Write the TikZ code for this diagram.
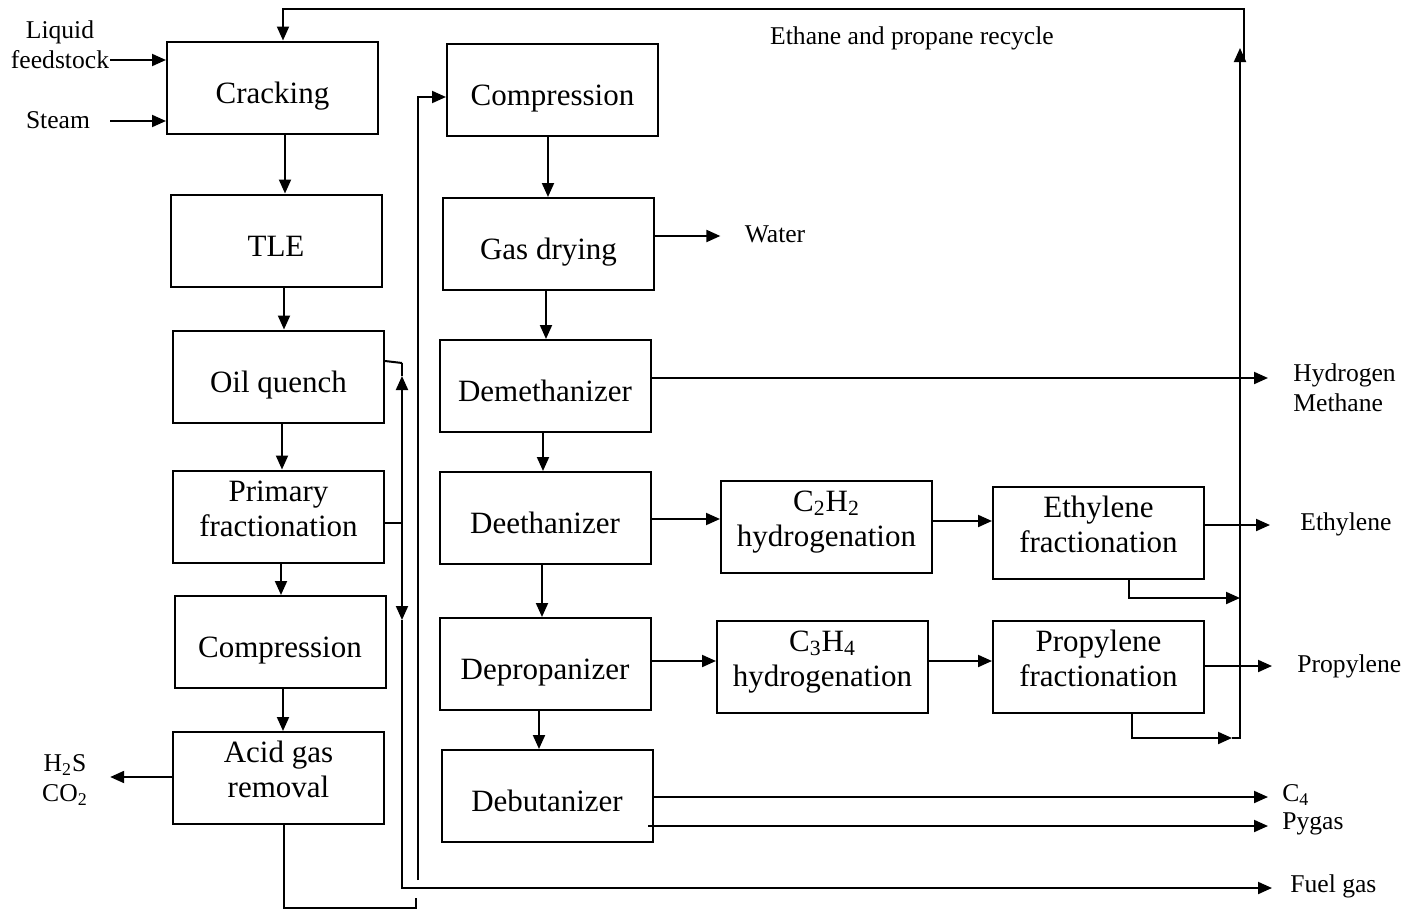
\documentclass[tikz,border=0pt]{standalone}
\usepackage{fontspec}
\setmainfont{Liberation Serif}
\usetikzlibrary{arrows.meta}
\begin{document}
\begin{tikzpicture}[x=0.5pt,y=-0.5pt,
 box/.style={draw, line width=1pt, minimum width=105.5pt, minimum height=46pt, align=center, inner sep=2pt, font=\fontsize{15.5}{17.5}\selectfont, text height=15.5pt, text depth=0pt},
 boxtwo/.style={box, text height=19.5pt, text depth=0pt},
 lbl/.style={font=\fontsize{12.8}{15}\selectfont, align=center, inner sep=0pt},
 lbll/.style={lbl, align=left, anchor=west},
 ln/.style={line width=1pt},
 arr/.style={ln, -{Triangle[length=7pt,width=6pt]}}]
\useasboundingbox (0,0) rectangle (1420,910);
% boxes
\node[box] (crack)  at (272.5,87.5) {Cracking};
\node[box] (tle)    at (276,240.5) {TLE};
\node[box] (oq)     at (278.5,376.5) {Oil quench};
\node[boxtwo] (pf)  at (278.5,516.5) {Primary\\fractionation};
\node[box] (comp1)  at (280,642) {Compression};
\node[boxtwo] (acid) at (278.5,778) {Acid gas\\removal};
\node[box] (comp2)  at (552.5,89.5) {Compression};
\node[box] (gd)     at (548.5,244) {Gas drying};
\node[box] (demeth) at (545,386) {Demethanizer};
\node[box] (deeth)  at (545,518) {Deethanizer};
\node[box] (deprop) at (545,664) {Depropanizer};
\node[box] (debut)  at (547,796) {Debutanizer};
\node[boxtwo] (c2h2)  at (826.5,527) {C\textsubscript{2}H\textsubscript{2}\\hydrogenation};
\node[boxtwo] (ethf)  at (1098.5,533) {Ethylene\\fractionation};
\node[boxtwo] (c3h4)  at (822.5,667) {C\textsubscript{3}H\textsubscript{4}\\hydrogenation};
\node[boxtwo] (propf) at (1098.5,667) {Propylene\\fractionation};
% labels
\node[lbl] (feed)  at (60,45) {Liquid\\feedstock};
\node[lbl] (steam) at (58,120) {Steam};
\node[lbl] (water) at (775,234) {Water};
\node[lbl] (h2s)   at (65,780) {H\textsubscript{2}S\\CO\textsubscript{2}};
\node[lbl] (recyc) at (912,38) {Ethane and propane recycle};
\node[lbll] (hm)   at (1293,388) {Hydrogen\\Methane};
\node[lbll] (eth)  at (1300,524) {Ethylene};
\node[lbll] (prop) at (1297,666) {Propylene};
\node[lbll] (c4)   at (1282,795) {C\textsubscript{4}};
\node[lbll] (pyg)  at (1282,824) {Pygas};
\node[lbll] (fuel) at (1290,886) {Fuel gas};
% coordinates
\coordinate (feedpt) at (110,60);
\coordinate (steampt) at (110,121);
\coordinate (rcbot) at (1240,735);
\coordinate (rctip) at (1240,48);
\coordinate (rctop) at (1244,61);
% inputs
\draw[arr] (feedpt) -- (crack.west |- feedpt);
\draw[arr] (steampt) -- (crack.west |- steampt);
% recycle
\draw[arr] (rctop) -- (1244,9) -- (283,9) -- (283,0 |- crack.north);
\draw[arr] (rcbot) -- (rctip);
\draw[arr] (1129,0 |- ethf.south) -- (1129,598) -- (1240,598);
\draw[arr] (1132,0 |- propf.south) -- (1132,738) -- (1232,738);
\draw[ln] (1232,738) -- (1240,738) -- (rcbot);
% left column
\draw[arr] (285,0 |- crack.south) -- (285,0 |- tle.north);
\draw[arr] (284,0 |- tle.south) -- (284,0 |- oq.north);
\draw[arr] (282,0 |- oq.south) -- (282,0 |- pf.north);
\draw[arr] (281,0 |- pf.south) -- (281,0 |- comp1.north);
\draw[arr] (283,0 |- comp1.south) -- (283,0 |- acid.north);
\draw[arr] (acid.west |- 0,777) -- ([xshift=11pt]h2s.east |- 0,777);
% fuel gas collector
\draw[ln] (oq.east |- 0,361) -- (402,363);
\draw[arr] (402,523) -- (402,376);
\draw[ln] (402,376) -- (402,363);
\draw[ln] (pf.east |- 0,523) -- (402,523);
\draw[arr] (402,523) -- (402,620);
\draw[arr] (402,620) -- (402,888) -- ([xshift=-9pt]fuel.west |- 0,888);
% bottom loop
\draw[ln] (284,0 |- acid.south) -- (284,908) -- (416,908) -- (416,898);
% to compression
\draw[arr] (418,880) -- (418,97) -- (comp2.west |- 0,97);
% right column
\draw[arr] (548,0 |- comp2.south) -- (548,0 |- gd.north);
\draw[arr] (546,0 |- gd.south) -- (546,0 |- demeth.north);
\draw[arr] (543,0 |- demeth.south) -- (543,0 |- deeth.north);
\draw[arr] (542,0 |- deeth.south) -- (542,0 |- deprop.north);
\draw[arr] (539,0 |- deprop.south) -- (539,0 |- debut.north);
\draw[arr] (gd.east |- 0,236) -- ([xshift=-12pt]water.west |- 0,236);
\draw[arr] (demeth.east |- 0,378) -- ([xshift=-12.5pt]hm.west |- 0,378);
\draw[arr] (deeth.east |- 0,519) -- (c2h2.west |- 0,519);
\draw[arr] (c2h2.east |- 0,521) -- (ethf.west |- 0,521);
\draw[arr] (deprop.east |- 0,661) -- (c3h4.west |- 0,661);
\draw[arr] (c3h4.east |- 0,661) -- (propf.west |- 0,661);
\draw[arr] (ethf.east |- 0,525) -- ([xshift=-15pt]eth.west |- 0,525);
\draw[arr] (propf.east |- 0,666) -- ([xshift=-12.5pt]prop.west |- 0,666);
\draw[arr] (debut.east |- 0,797) -- ([xshift=-7pt]c4.west |- 0,797);
\draw[arr] (648,826) -- ([xshift=-7pt]pyg.west |- 0,826);
\end{tikzpicture}
\end{document}
